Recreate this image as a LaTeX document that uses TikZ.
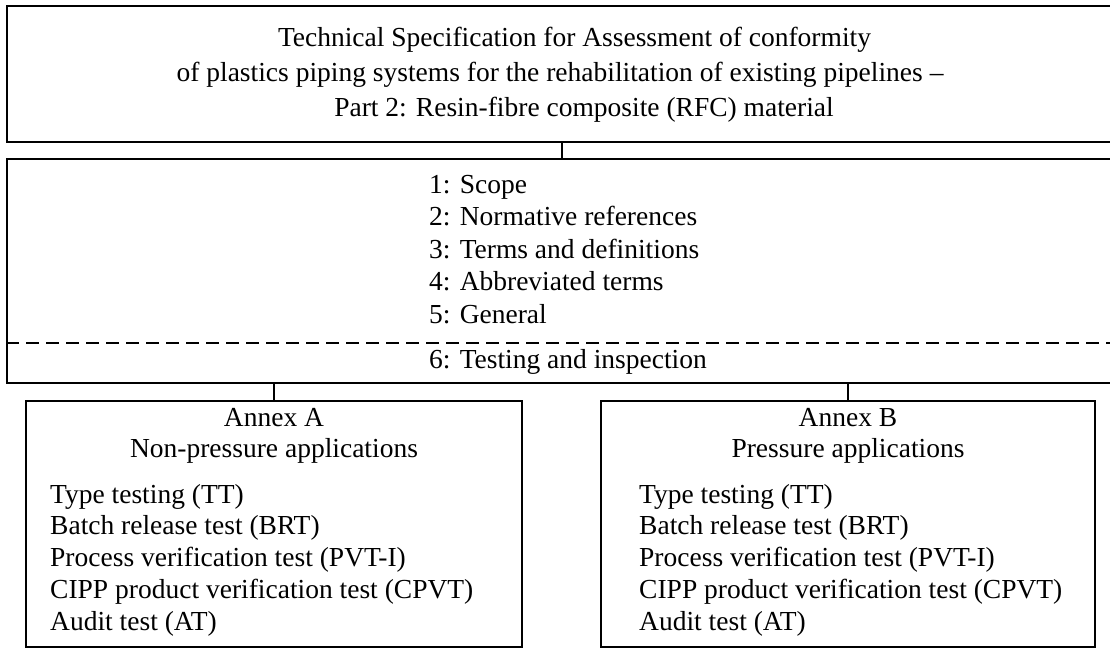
\documentclass[tikz,border=0pt]{standalone}
\usepackage{fontspec}
\setmainfont{Liberation Serif}
\begin{document}
\begin{tikzpicture}[x=1pt,y=-1pt,
  box/.style={draw, line width=1.6pt, inner sep=0pt, rectangle},
  annex/.style={draw, line width=1.3pt, inner sep=0pt, rectangle},
  txt/.style={inner sep=0pt, anchor=base, font=\fontsize{27.5}{33}\selectfont},
  ltxt/.style={txt, anchor=base west},
  link/.style={line width=1.3pt},
  sep/.style={line width=1.3pt, dash pattern=on 13pt off 7pt}]
\clip (0,0) rectangle (1110,651);
% boxes
\node[box, minimum width=1110pt, minimum height=136pt] (title) at (562,74) {};
\node[box, minimum width=1110pt, minimum height=224pt] (mid) at (562,271) {};
\node[annex, minimum width=496pt, minimum height=246pt] (annexA) at (274,524) {};
\node[annex, minimum width=494pt, minimum height=246pt] (annexB) at (848,524) {};
% title text
\node[txt] (t1) at (574.5,46) {Technical Specification for Assessment of conformity};
\node[txt] (t2) at (560,81) {of plastics piping systems for the rehabilitation of existing pipelines –};
\node[txt] (t3) at (584,116) {Part 2: Resin-fibre composite (RFC) material};
% clauses
\node[ltxt] (c1) at (429,193) {1: Scope};
\node[ltxt] (c2) at (429,225.5) {2: Normative references};
\node[ltxt] (c3) at (429,258) {3: Terms and definitions};
\node[ltxt] (c4) at (429,290.5) {4: Abbreviated terms};
\node[ltxt] (c5) at (429,323) {5: General};
\node[ltxt] (c6) at (429,368) {6: Testing and inspection};
\draw[sep] (mid.west |- 0,343) -- (mid.east |- 0,343);
% annex A
\node[txt] (ah1) at (274,426) {Annex A};
\node[txt] (ah2) at (274,457) {Non-pressure applications};
\node[ltxt] (a1) at (50,503) {Type testing (TT)};
\node[ltxt] (a2) at (50,534.75) {Batch release test (BRT)};
\node[ltxt] (a3) at (50,566.5) {Process verification test (PVT-I)};
\node[ltxt] (a4) at (50,598.25) {CIPP product verification test (CPVT)};
\node[ltxt] (a5) at (50,630) {Audit test (AT)};
% annex B
\node[txt] (bh1) at (848,426) {Annex B};
\node[txt] (bh2) at (848,457) {Pressure applications};
\node[ltxt] (b1) at (639,503) {Type testing (TT)};
\node[ltxt] (b2) at (639,534.75) {Batch release test (BRT)};
\node[ltxt] (b3) at (639,566.5) {Process verification test (PVT-I)};
\node[ltxt] (b4) at (639,598.25) {CIPP product verification test (CPVT)};
\node[ltxt] (b5) at (639,630) {Audit test (AT)};
% connectors
\draw[link] (title.south) -- (mid.north);
\draw[link] (annexA.north) -- (annexA.north |- mid.south);
\draw[link] (annexB.north) -- (annexB.north |- mid.south);
\end{tikzpicture}
\end{document}
